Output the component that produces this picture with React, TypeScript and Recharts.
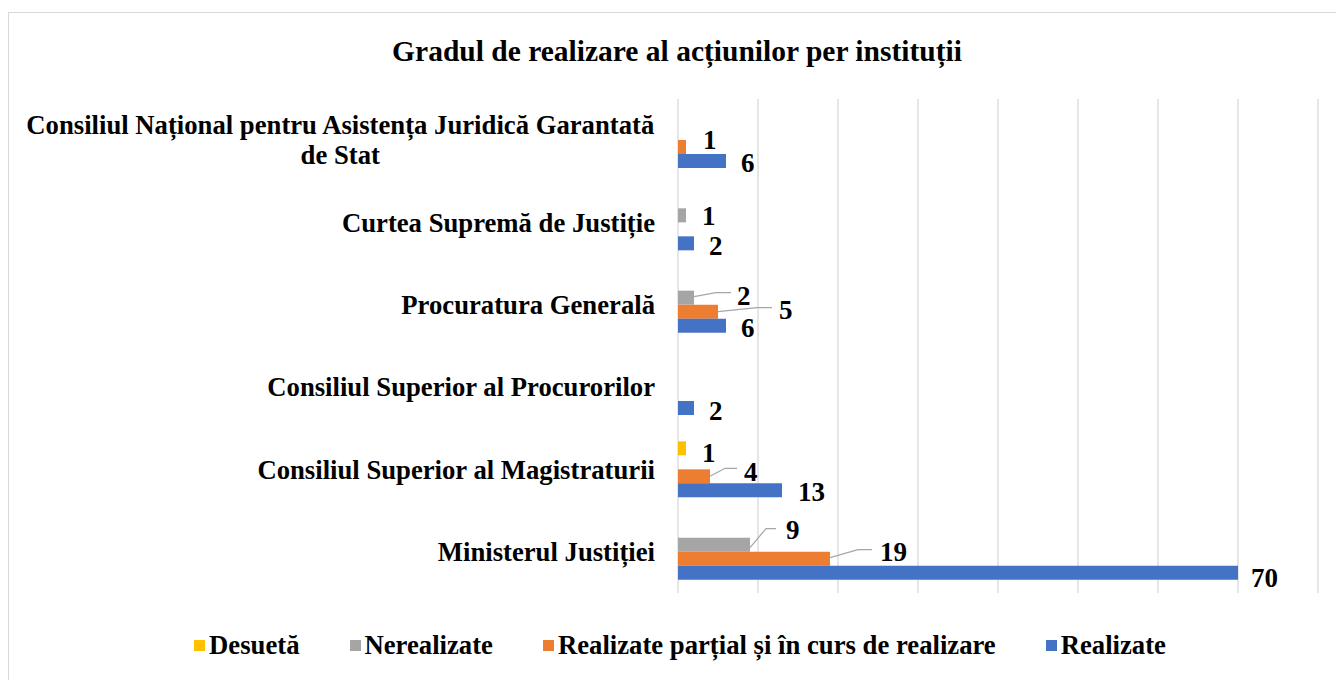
import React from "react"
import { BarChart, Bar, XAxis, YAxis, CartesianGrid, LabelList, Legend } from "recharts"

const categories = [
  "Consiliul Național pentru Asistența Juridică Garantată de Stat",
  "Curtea Supremă de Justiție",
  "Procuratura Generală",
  "Consiliul Superior al Procurorilor",
  "Consiliul Superior al Magistraturii",
  "Ministerul Justiției",
]

const desueta = [null, null, null, null, 1, null]
const nerealizate = [null, 1, 2, null, null, 9]
const partial = [1, null, 5, null, 4, 19]
const realizate = [6, 2, 6, 2, 13, 70]

const xTicks = [0, 10, 20, 30, 40, 50, 60, 70, 80]

const TITLE = "Gradul de realizare al acțiunilor per instituții"

const SERIES = [
  { key: "desueta", name: "Desuetă", color: "#FFC000", values: desueta },
  { key: "nerealizate", name: "Nerealizate", color: "#A5A5A5", values: nerealizate },
  { key: "partial", name: "Realizate parțial și în curs de realizare", color: "#ED7D31", values: partial },
  { key: "realizate", name: "Realizate", color: "#4472C4", values: realizate },
]

const data = categories.map((name, i) => ({
  name,
  desueta: desueta[i],
  nerealizate: nerealizate[i],
  partial: partial[i],
  realizate: realizate[i],
}))

const FONT = '"Liberation Serif", "Times New Roman", serif'
const CAT_SIZE = 26.7
const LABEL_SIZE = 27

// label placement, like Excel's dragged data labels (offsets from the bar end / bar centre)
type LabelPos = { dx: number; dy: number; leader?: [number, number][] }
const LABEL_LAYOUT: Record<string, LabelPos> = {
  "partial:0": { dx: 17, dy: -7 },
  "realizate:0": { dx: 15, dy: 2 },
  "nerealizate:1": { dx: 16, dy: 0 },
  "nerealizate:2": { dx: 43, dy: -2, leader: [[0, -1], [22, -5], [37, -5]] },
  "partial:2": { dx: 61, dy: -2, leader: [[0, 0], [39, -4], [54, -4]] },
  "realizate:2": { dx: 15, dy: 2 },
  "realizate:3": { dx: 15, dy: 3 },
  "desueta:4": { dx: 16, dy: 4 },
  "partial:4": { dx: 34, dy: -5, leader: [[0, 0], [15, -8], [27, -8]] },
  "realizate:4": { dx: 16, dy: 1 },
  "nerealizate:5": { dx: 36, dy: -15, leader: [[0, 3], [16, -16], [26, -16]] },
  "partial:5": { dx: 50, dy: -7, leader: [[0, -1], [28, -9], [42, -9]] },
  "realizate:5": { dx: 13, dy: 5 },
}

let ctx: CanvasRenderingContext2D | null = null
function measure(text: string, size: number) {
  if (!ctx) ctx = document.createElement("canvas").getContext("2d")
  if (!ctx) return text.length * size * 0.5
  ctx.font = `bold ${size}px ${FONT}`
  return ctx.measureText(text).width
}

function wrap(text: string, maxWidth: number, size: number) {
  const words = text.split(" ")
  const lines: string[] = []
  let cur = ""
  for (const w of words) {
    const next = cur ? cur + " " + w : w
    if (cur && measure(next, size) > maxWidth) {
      lines.push(cur)
      cur = w
    } else cur = next
  }
  if (cur) lines.push(cur)
  return lines
}

function CategoryTick(props: any) {
  const { x, y, payload } = props
  const lines = wrap(payload.value, 645, CAT_SIZE)
  const maxW = Math.max(...lines.map((l) => measure(l, CAT_SIZE)))
  const lh = 30
  const cx = x - maxW / 2
  const startY = y - ((lines.length - 1) * lh) / 2 + CAT_SIZE * 0.34
  return (
    <g>
      {lines.map((l, i) => (
        <text
          key={i}
          x={lines.length > 1 ? cx : x}
          y={startY + i * lh}
          textAnchor={lines.length > 1 ? "middle" : "end"}
          fontFamily={FONT}
          fontWeight="bold"
          fontSize={CAT_SIZE}
          fill="#000"
        >
          {l}
        </text>
      ))}
    </g>
  )
}

// bars with no value are skipped, so the label index counts only the filled rows
function makeLabel(seriesKey: string, values: (number | null)[]) {
  const rows = values.map((v, i) => (v == null ? -1 : i)).filter((i) => i >= 0)
  return (props: any) => {
    const { x, y, width, height, value, index } = props
    if (value == null) return null
    const row = rows[index] ?? index
    const pos = LABEL_LAYOUT[`${seriesKey}:${row}`] ?? { dx: 15, dy: 2 }
    const ex = x + width
    const cy = y + height / 2
    return (
      <g>
        {pos.leader && (
          <polyline
            points={pos.leader.map(([px, py]) => `${ex + px},${cy + py}`).join(" ")}
            fill="none"
            stroke="#A6A6A6"
            strokeWidth={1.2}
          />
        )}
        <text
          x={ex + pos.dx}
          y={cy + pos.dy + LABEL_SIZE * 0.34}
          fontFamily={FONT}
          fontWeight="bold"
          fontSize={LABEL_SIZE}
          fill="#000"
        >
          {value}
        </text>
      </g>
    )
  }
}

function LegendContent() {
  return (
    <div style={{ display: "flex", justifyContent: "center", alignItems: "center", gap: 50 }}>
      {SERIES.map((s) => (
        <div key={s.key} style={{ display: "flex", alignItems: "center" }}>
          <span style={{ width: 11, height: 11, background: s.color, marginRight: 4, display: "inline-block" }} />
          <span style={{ fontFamily: FONT, fontWeight: "bold", fontSize: CAT_SIZE, lineHeight: "30px", color: "#000" }}>
            {s.name}
          </span>
        </div>
      ))}
    </div>
  )
}

export default function App() {
  return (
    <div style={{ position: "absolute", left: 0, top: 0, width: 1336, height: 680, overflow: "hidden", background: "#fff" }}>
      <div
        style={{
          position: "absolute",
          left: 8,
          top: 12,
          width: 1360,
          height: 700,
          border: "1px solid #D9D9D9",
        }}
      />
      <div
        style={{
          position: "absolute",
          left: 0,
          top: 37,
          width: 1354,
          textAlign: "center",
          fontFamily: FONT,
          fontWeight: "bold",
          fontSize: 29.5,
          lineHeight: "29px",
          color: "#000",
        }}
      >
        {TITLE}
      </div>
      <div style={{ position: "absolute", left: 0, top: 0 }}>
        <BarChart
          width={1336}
          height={680}
          data={data}
          layout="vertical"
          margin={{ top: 99, right: 18, bottom: 87, left: 0 }}
          barSize={14}
          barGap={0}
        >
          <CartesianGrid horizontal={false} stroke="#D9D9D9" strokeWidth={1.3} />
          <XAxis type="number" domain={[0, 80]} ticks={xTicks} hide />
          <YAxis
            type="category"
            dataKey="name"
            width={678}
            axisLine={false}
            tickLine={false}
            tickSize={0}
            tickMargin={23}
            tick={<CategoryTick />}
            interval={0}
          />
          <Legend
            layout="horizontal"
            verticalAlign="middle"
            align="center"
            wrapperStyle={{ top: 630, left: 0, width: 1360 }}
            content={<LegendContent />}
          />
          {SERIES.map((s) => (
            <Bar key={s.key} dataKey={s.key} name={s.name} fill={s.color} isAnimationActive={false}>
              <LabelList dataKey={s.key} content={makeLabel(s.key, s.values)} />
            </Bar>
          ))}
        </BarChart>
      </div>
    </div>
  )
}
